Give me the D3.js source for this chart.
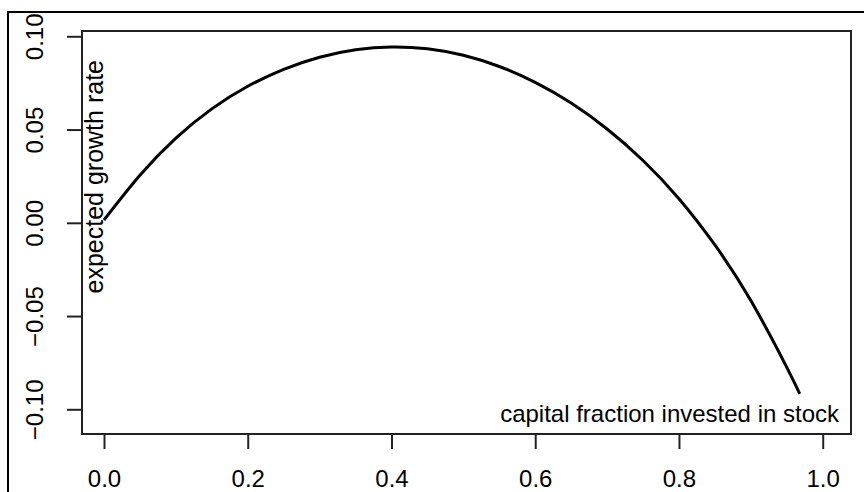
<!DOCTYPE html>
<html>
<head>
    <meta charset="utf-8">
    <title>Expected growth rate</title>
    <style>
      body { margin: 0; background: #fff; }
      svg { display: block; }
      text { font-family: "Liberation Sans", Arial, sans-serif; fill: #000; }
    </style>
</head>
<body>
<div id="chart"></div>
<script src="https://d3js.org/d3.v7.min.js"></script>
<script>
// fraction of capital in stock vs expected growth rate
var fraction = [0, 0.05, 0.10, 0.15, 0.20, 0.25, 0.30, 0.35, 0.40, 0.45, 0.50,
                0.55, 0.60, 0.65, 0.70, 0.75, 0.80, 0.85, 0.90, 0.95, 0.968];
var growth   = [0.0015, 0.0255, 0.0454, 0.0611, 0.0732, 0.0823, 0.0888, 0.0928, 0.0943, 0.0933, 0.0898,
                0.0838, 0.0753, 0.0642, 0.0503, 0.0334, 0.0129, -0.0119, -0.0417, -0.0775, -0.0917];
var xTicks = [0, 0.2, 0.4, 0.6, 0.8, 1.0];
var yTicks = [-0.10, -0.05, 0, 0.05, 0.10];

var width = 864, height = 492;

var svg = d3.select("#chart").append("svg")
    .attr("width", width)
    .attr("height", height);

var x = d3.scaleLinear().domain([0, 1]).range([104, 822.7]);
var y = d3.scaleLinear().domain([-0.1, 0.1]).range([409.3, 36.3]);

// outer device frame (runs off the page at right and bottom)
svg.append("rect")
    .attr("x", 8).attr("y", 12)
    .attr("width", 900).attr("height", 600)
    .attr("fill", "none").attr("stroke", "#000").attr("stroke-width", 2);

// plot box
svg.append("rect")
    .attr("x", 82).attr("y", 31)
    .attr("width", 769).attr("height", 403)
    .attr("fill", "none").attr("stroke", "#222").attr("stroke-width", 2);

// x axis
var xAxis = svg.append("g")
    .attr("transform", "translate(0,434)")
    .call(d3.axisBottom(x).tickValues(xTicks).tickFormat(d3.format(".1f"))
          .tickSize(15).tickPadding(21));
xAxis.select(".domain").remove();
xAxis.selectAll("line").attr("stroke", "#222").attr("stroke-width", 2);
xAxis.selectAll("text").style("font-size", "24px").attr("fill", "#000");

// y axis, labels turned like R's default
var yAxis = svg.append("g")
    .attr("transform", "translate(82,0)")
    .call(d3.axisLeft(y).tickValues(yTicks).tickFormat(d3.format(".2f")).tickSize(15));
yAxis.select(".domain").remove();
yAxis.selectAll("line").attr("stroke", "#222").attr("stroke-width", 2);
yAxis.selectAll("text")
    .style("font-size", "24px")
    .attr("fill", "#000")
    .attr("text-anchor", "middle")
    .attr("x", null).attr("dy", null)
    .attr("transform", "translate(-39,0) rotate(-90)");

// the curve
var line = d3.line()
    .x(function(d, i) { return x(fraction[i]); })
    .y(function(d) { return y(d); })
    .curve(d3.curveNatural);

svg.append("path")
    .datum(growth)
    .attr("d", line)
    .attr("fill", "none")
    .attr("stroke", "#000")
    .attr("stroke-width", 3);

// labels drawn inside the plot
svg.append("text")
    .attr("transform", "translate(103,60) rotate(-90)")
    .attr("text-anchor", "end")
    .style("font-size", "25px")
    .text("expected growth rate");

svg.append("text")
    .attr("x", 839).attr("y", 421.5)
    .attr("text-anchor", "end")
    .style("font-size", "24px")
    .text("capital fraction invested in stock");
</script>
</body>
</html>
